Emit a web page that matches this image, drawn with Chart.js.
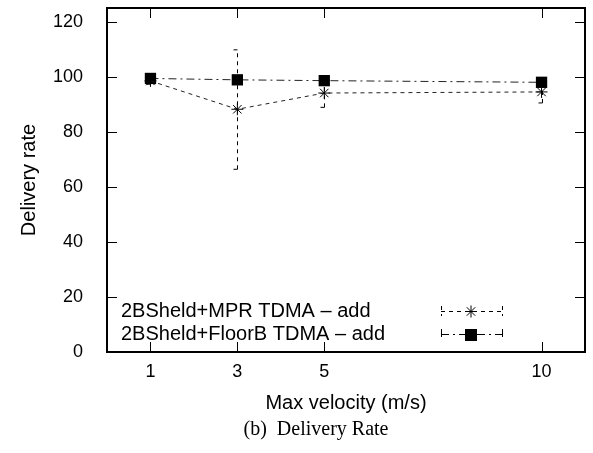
<!DOCTYPE html>
<html>
<head>
<meta charset="utf-8">
<script src="https://cdn.jsdelivr.net/npm/chart.js@4"></script>
<style>
  html, body { margin: 0; padding: 0; background: #fff; }
</style>
</head>
<body>
<canvas id="chart" width="593" height="453"></canvas>
<script>
const velocities = [1, 3, 5, 10];
const yTicks = [0, 20, 40, 60, 80, 100, 120];
const seriesLabels = ['2BSheld+MPR TDMA \u2013 add', '2BSheld+FloorB TDMA \u2013 add'];

const mprRate = [98.5, 88.2, 94.1, 94.5];
const mprLow = [97.3, 66.4, 88.9, 90.5];
const mprHigh = [99.7, 109.8, 99.2, 98.5];

const floorRate = [99.4, 98.9, 98.6, 98.0];
const floorLow = [98.9, 98.4, 98.1, 97.5];
const floorHigh = [99.9, 99.4, 99.1, 98.5];

const caption = '(b)  Delivery Rate';

const SANS = '"Liberation Sans", Arial, Helvetica, sans-serif';
const MPR_DASH = [4, 4];
const FLOOR_DASH = [8, 4, 2, 4];

Chart.defaults.font.family = SANS;
Chart.defaults.color = '#000';

function drawErrorBars(chart, xs, lows, highs, dash) {
  const { ctx, scales: { x, y } } = chart;
  ctx.save();
  ctx.strokeStyle = '#000';
  ctx.lineWidth = 1;
  ctx.setLineDash(dash);
  xs.forEach((v, i) => {
    const px = Math.round(x.getPixelForValue(v)) + 0.5;
    const lo = y.getPixelForValue(lows[i]);
    const hi = y.getPixelForValue(highs[i]);
    ctx.beginPath();
    ctx.moveTo(px, lo); ctx.lineTo(px, hi);
    ctx.moveTo(px - 4, lo); ctx.lineTo(px + 4, lo);
    ctx.moveTo(px - 4, hi); ctx.lineTo(px + 4, hi);
    ctx.stroke();
  });
  ctx.restore();
}

function drawStar(ctx, cx, cy, r) {
  const d = r * Math.SQRT1_2;
  ctx.beginPath();
  ctx.moveTo(cx - r, cy); ctx.lineTo(cx + r, cy);
  ctx.moveTo(cx, cy - r); ctx.lineTo(cx, cy + r);
  ctx.moveTo(cx - d, cy - d); ctx.lineTo(cx + d, cy + d);
  ctx.moveTo(cx - d, cy + d); ctx.lineTo(cx + d, cy - d);
  ctx.stroke();
}

const gnuplotLook = {
  id: 'gnuplotLook',
  beforeDatasetsDraw(chart) {
    drawErrorBars(chart, velocities, mprLow, mprHigh, MPR_DASH);
    drawErrorBars(chart, velocities, floorLow, floorHigh, FLOOR_DASH);
  },
  afterDraw(chart) {
    const { ctx, chartArea: a, scales: { x, y } } = chart;
    ctx.save();
    ctx.strokeStyle = '#000';

    // inward ticks, mirrored
    ctx.lineWidth = 1;
    x.ticks.forEach(t => {
      const px = Math.round(x.getPixelForValue(t.value)) + 0.5;
      ctx.beginPath();
      ctx.moveTo(px, a.bottom); ctx.lineTo(px, a.bottom - 10);
      ctx.moveTo(px, a.top); ctx.lineTo(px, a.top + 10);
      ctx.stroke();
    });
    y.ticks.forEach(t => {
      const py = Math.round(y.getPixelForValue(t.value)) + 0.5;
      ctx.beginPath();
      ctx.moveTo(a.left, py); ctx.lineTo(a.left + 10, py);
      ctx.moveTo(a.right, py); ctx.lineTo(a.right - 10, py);
      ctx.stroke();
    });

    // frame
    ctx.lineWidth = 2;
    ctx.strokeRect(a.left, a.top, a.right - a.left, a.bottom - a.top);

    // legend
    const rows = [311, 334];
    ctx.font = '20px ' + SANS;
    ctx.fillStyle = '#000';
    ctx.textAlign = 'left';
    ctx.textBaseline = 'middle';
    rows.forEach((ry, i) => {
      ctx.fillText(seriesLabels[i], 121, ry);
      const x0 = 441, x1 = 502, mx = 471;
      ctx.lineWidth = 1;
      ctx.setLineDash(i === 0 ? MPR_DASH : FLOOR_DASH);
      ctx.beginPath();
      ctx.moveTo(x0, ry + 0.5); ctx.lineTo(x1, ry + 0.5);
      ctx.moveTo(x0 + 0.5, ry - 5); ctx.lineTo(x0 + 0.5, ry + 5);
      ctx.moveTo(x1 + 0.5, ry - 5); ctx.lineTo(x1 + 0.5, ry + 5);
      ctx.stroke();
      ctx.setLineDash([]);
      if (i === 0) {
        ctx.fillStyle = '#fff';
        ctx.fillRect(mx - 7, ry - 6, 14, 12);
        drawStar(ctx, mx, ry + 0.5, 6);
      } else {
        ctx.fillStyle = '#000';
        ctx.fillRect(mx - 6, ry - 5, 12, 12);
      }
      ctx.fillStyle = '#000';
    });

    // caption
    ctx.font = '20px "Liberation Serif", "Times New Roman", serif';
    ctx.textAlign = 'center';
    ctx.fillText(caption, 316, 430);
    ctx.restore();
  }
};

new Chart(document.getElementById('chart'), {
  type: 'line',
  data: {
    datasets: [
      {
        label: seriesLabels[0],
        data: velocities.map((v, i) => ({ x: v, y: mprRate[i] })),
        borderColor: '#222',
        borderWidth: 1,
        borderDash: MPR_DASH,
        pointStyle: 'star',
        pointRadius: 6,
        pointBorderColor: '#000',
        pointBackgroundColor: '#000',
        pointBorderWidth: 1,
        tension: 0
      },
      {
        label: seriesLabels[1],
        data: velocities.map((v, i) => ({ x: v, y: floorRate[i] })),
        borderColor: '#222',
        borderWidth: 1,
        borderDash: FLOOR_DASH,
        pointStyle: 'rect',
        pointRadius: 8,
        pointBorderColor: '#000',
        pointBackgroundColor: '#000',
        pointBorderWidth: 0,
        tension: 0
      }
    ]
  },
  options: {
    responsive: false,
    animation: false,
    devicePixelRatio: 1,
    layout: { padding: { top: 6, right: 8, left: 0, bottom: 0 } },
    plugins: { legend: { display: false }, tooltip: { enabled: false } },
    scales: {
      x: {
        type: 'linear',
        min: 0,
        max: 11,
        grid: { display: false, drawTicks: false },
        border: { display: false },
        ticks: { font: { size: 18 }, padding: 9, maxRotation: 0 },
        afterBuildTicks: s => { s.ticks = velocities.map(v => ({ value: v })); },
        afterFit: s => { s.height = 101; s.paddingLeft = 0; s.paddingRight = 0; },
        title: { display: true, text: 'Max velocity (m/s)', font: { size: 20 }, padding: { top: 0, bottom: 38 } }
      },
      y: {
        type: 'linear',
        min: 0,
        max: 125,
        grid: { display: false, drawTicks: false },
        border: { display: false },
        ticks: { font: { size: 18 }, padding: 24 },
        afterBuildTicks: s => { s.ticks = yTicks.map(v => ({ value: v })); },
        afterFit: s => { s.width = 107; s.paddingTop = 0; s.paddingBottom = 0; },
        title: { display: true, text: 'Delivery rate', font: { size: 20 }, padding: { top: 17, bottom: 0 } }
      }
    }
  },
  plugins: [gnuplotLook]
});
</script>
</body>
</html>
